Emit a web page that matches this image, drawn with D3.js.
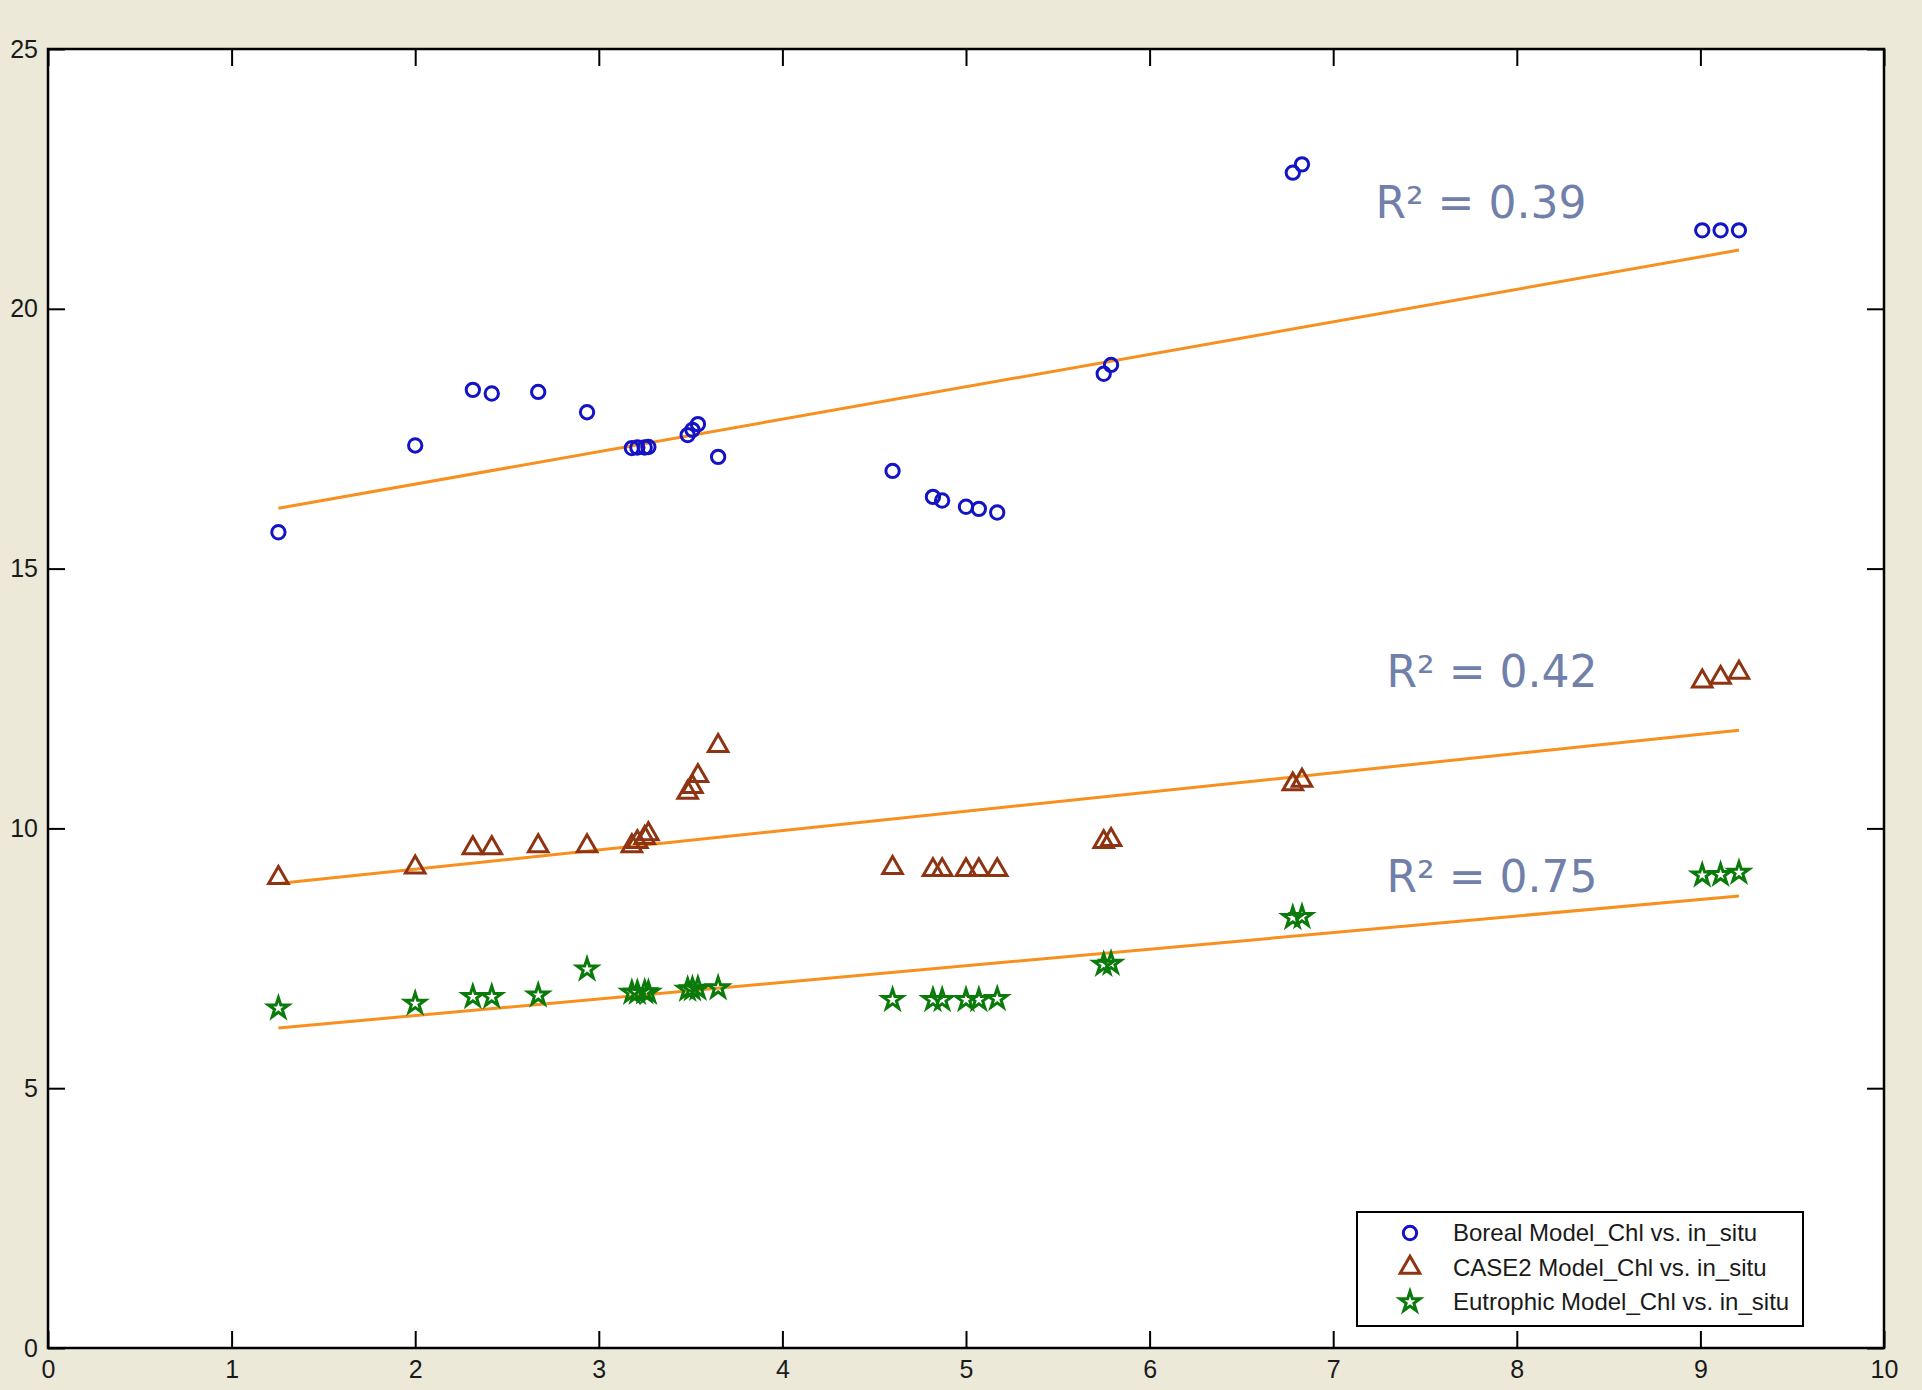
<!DOCTYPE html>
<html>
<head>
<meta charset="utf-8">
<script src="https://cdn.jsdelivr.net/npm/d3@7"></script>
<style>
  body { margin: 0; background: #ece9d8; }
  svg { display: block; }
  .tick text { font-family: "Liberation Sans", Arial, sans-serif; font-size: 25px; fill: #1a1a1a; }
</style>
</head>
<body>
<div id="chart"></div>
<script>
// in_situ values (shared x)
let inSitu = [1.255, 2.0, 2.314, 2.417, 2.67, 2.936, 3.18, 3.21, 3.25, 3.27, 3.484, 3.51, 3.54, 3.65,
  4.60, 4.82, 4.87, 5.0, 5.07, 5.17, 5.75, 5.79, 6.78, 6.83, 9.01, 9.11, 9.21];

// model values
let boreal = [15.70, 17.37, 18.44, 18.37, 18.40, 18.01, 17.32, 17.33, 17.33, 17.34, 17.57, 17.67, 17.78, 17.15,
  16.88, 16.38, 16.31, 16.19, 16.15, 16.08, 18.75, 18.92, 22.62, 22.78, 21.51, 21.51, 21.51];
let case2 = [9.05, 9.25, 9.62, 9.62, 9.66, 9.66, 9.66, 9.74, 9.82, 9.89, 10.69, 10.80, 11.01, 11.59,
  9.24, 9.20, 9.20, 9.20, 9.20, 9.20, 9.74, 9.78, 10.85, 10.92, 12.83, 12.90, 13.00];
let eutrophic = [6.54, 6.63, 6.76, 6.76, 6.79, 7.29, 6.84, 6.84, 6.85, 6.84, 6.90, 6.91, 6.92, 6.93,
  6.70, 6.70, 6.70, 6.70, 6.70, 6.72, 7.38, 7.40, 8.28, 8.30, 9.10, 9.11, 9.15];

// fitted lines (end points)
let fitX = [1.255, 9.21];
let borealFit = [16.16, 21.13];
let case2Fit = [8.94, 11.89];
let eutrophicFit = [6.16, 8.70];

let seriesNames = ["Boreal Model_Chl vs. in_situ", "CASE2 Model_Chl vs. in_situ", "Eutrophic Model_Chl vs. in_situ"];
let r2Labels = ["R\u00B2 = 0.39", "R\u00B2 = 0.42", "R\u00B2 = 0.75"];
let r2X = [7.23, 7.29, 7.29];
let r2Y = [21.75, 12.72, 8.78];

let xTicks = [0, 1, 2, 3, 4, 5, 6, 7, 8, 9, 10];
let yTicks = [0, 5, 10, 15, 20, 25];

// sizes
let svgWidth = 1922;
let svgHeight = 1390;
let plot = { left: 48, right: 1884, top: 49, bottom: 1348 };
let tickLen = 17;

let colors = ["#1414c4", "#8e3412", "#0a7a0a"];
let shapes = [d3.symbolCircle, d3.symbolTriangle, d3.symbolStar];
let shapeSizes = [140, 165, 125];

let svg = d3.select("#chart").append("svg")
  .attr("width", svgWidth)
  .attr("height", svgHeight);

svg.append("rect").attr("width", svgWidth).attr("height", svgHeight).attr("fill", "#ece9d8");
svg.append("rect")
  .attr("x", plot.left).attr("y", plot.top)
  .attr("width", plot.right - plot.left).attr("height", plot.bottom - plot.top)
  .attr("fill", "#fff");

let x = d3.scaleLinear().domain([0, 10]).range([plot.left, plot.right]);
let y = d3.scaleLinear().domain([0, 25]).range([plot.bottom, plot.top]);

// axes with inward ticks on all sides
svg.append("g")
  .attr("transform", `translate(0,${plot.bottom})`)
  .call(d3.axisBottom(x).tickValues(xTicks).tickSizeInner(-tickLen).tickSizeOuter(0).tickPadding(12))
  .call(g => g.select(".domain").remove());
svg.append("g")
  .attr("transform", `translate(0,${plot.top})`)
  .call(d3.axisTop(x).tickValues(xTicks).tickSizeInner(-tickLen).tickSizeOuter(0).tickFormat(""))
  .call(g => g.select(".domain").remove());
svg.append("g")
  .attr("transform", `translate(${plot.left},0)`)
  .call(d3.axisLeft(y).tickValues(yTicks).tickSizeInner(-tickLen).tickSizeOuter(0).tickPadding(10))
  .call(g => g.select(".domain").remove());
svg.append("g")
  .attr("transform", `translate(${plot.right},0)`)
  .call(d3.axisRight(y).tickValues(yTicks).tickSizeInner(-tickLen).tickSizeOuter(0).tickFormat(""))
  .call(g => g.select(".domain").remove());

svg.selectAll(".tick line").attr("stroke", "#000").attr("stroke-width", 2);

// plot frame
svg.append("rect")
  .attr("x", plot.left).attr("y", plot.top)
  .attr("width", plot.right - plot.left).attr("height", plot.bottom - plot.top)
  .attr("fill", "none").attr("stroke", "#000").attr("stroke-width", 2.5);

// fit lines
let fits = [borealFit, case2Fit, eutrophicFit];
let line = d3.line().x(d => x(d[0])).y(d => y(d[1]));
fits.forEach(f => {
  svg.append("path")
    .datum(fitX.map((v, i) => [v, f[i]]))
    .attr("d", line)
    .attr("fill", "none")
    .attr("stroke", "#f7901e")
    .attr("stroke-width", 3);
});

// points
let allSeries = [boreal, case2, eutrophic];
allSeries.forEach((vals, s) => {
  let sym = d3.symbol().type(shapes[s]).size(shapeSizes[s]);
  svg.append("g").selectAll("path")
    .data(vals)
    .enter()
    .append("path")
    .attr("transform", (d, i) => `translate(${x(inSitu[i])},${y(d)})`)
    .attr("d", sym)
    .attr("fill", "none")
    .attr("stroke", colors[s])
    .attr("stroke-width", 3);
});

// R^2 labels
svg.append("g").selectAll("text")
  .data(r2Labels)
  .enter()
  .append("text")
  .attr("x", (d, i) => x(r2X[i]))
  .attr("y", (d, i) => y(r2Y[i]))
  .attr("font-family", "DejaVu Sans, Verdana, sans-serif")
  .attr("font-size", 44)
  .attr("fill", "#7180aa")
  .text(d => d);

// legend
let legend = svg.append("g");
legend.append("rect")
  .attr("x", 1357).attr("y", 1212)
  .attr("width", 446).attr("height", 114)
  .attr("fill", "#fff").attr("stroke", "#000").attr("stroke-width", 2);
seriesNames.forEach((name, i) => {
  let cy = 1233 + i * 34.5;
  legend.append("path")
    .attr("transform", `translate(1410,${cy})`)
    .attr("d", d3.symbol().type(shapes[i]).size(shapeSizes[i]))
    .attr("fill", "none")
    .attr("stroke", colors[i])
    .attr("stroke-width", 3);
  legend.append("text")
    .attr("x", 1453).attr("y", cy + 8)
    .attr("font-family", "Liberation Sans, Arial, sans-serif")
    .attr("font-size", 24)
    .attr("fill", "#1a1a1a")
    .text(name);
});
</script>
</body>
</html>
